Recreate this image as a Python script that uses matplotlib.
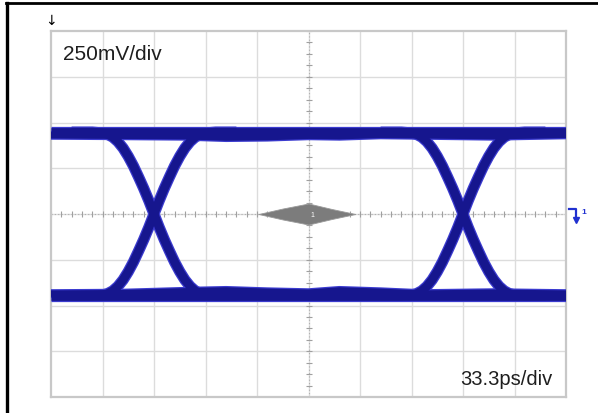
import numpy as np
import matplotlib
matplotlib.use("Agg")
import matplotlib.pyplot as plt
from matplotlib.lines import Line2D

plt.rcParams["font.family"] = ["Liberation Sans", "DejaVu Sans"]

# screen is 10 x 8 divisions, values in divisions
crossings = [-3.0, 3.0]
level_hi = 1.79
level_lo = -1.79

# rising edge read around a crossing (t in div from crossing, v in div)
edge_t = [-1.6, -1.2, -1.0, -0.9, -0.8, -0.7, -0.6, -0.5, -0.4, -0.3, -0.2, -0.1, 0.0,
          0.1, 0.2, 0.3, 0.4, 0.5, 0.6, 0.7, 0.8, 0.9, 1.0, 1.2, 1.6]
edge_v = [-1.79, -1.79, -1.77, -1.74, -1.68, -1.58, -1.44, -1.26, -1.05, -0.81, -0.56, -0.29, 0.0,
          0.29, 0.56, 0.81, 1.05, 1.26, 1.44, 1.58, 1.68, 1.74, 1.77, 1.79, 1.79]

# settling traces that sit a bit inside the level bands
settle_t = [-5.0, -3.6, -2.4, -1.6, -0.8, 0.0, 0.6, 1.4, 2.2, 3.6, 5.0]
settle_hi = [1.72, 1.71, 1.70, 1.67, 1.68, 1.71, 1.70, 1.73, 1.72, 1.70, 1.73]
settle_lo = [-1.74, -1.73, -1.69, -1.67, -1.70, -1.72, -1.67, -1.70, -1.74, -1.72, -1.74]

# gray histogram spindle at screen centre
spindle_t = [-0.97, -0.5, 0.0, 0.45, 0.91]
spindle_v = [0.0, 0.12, 0.23, 0.11, 0.0]

fig = plt.figure(figsize=(5.98, 4.14), dpi=100)
ax = fig.add_axes([51 / 598, 16 / 414, 515 / 598, 366 / 414])
ax.set_xlim(-5, 5)
ax.set_ylim(-4, 4)
ax.set_xticks([]); ax.set_yticks([])
for s in ax.spines.values():
    s.set_color("#c8c8c8"); s.set_linewidth(1.6)

for x in range(-4, 5):
    ax.axvline(x, color="#dcdcdc", lw=1, zorder=0)
for y in range(-3, 4):
    ax.axhline(y, color="#dcdcdc", lw=1, zorder=0)
ax.axhline(0, color="#b0b0b0", lw=0.8, ls=(0, (1, 2)), zorder=1)
ax.axvline(0, color="#b0b0b0", lw=0.8, ls=(0, (1, 2)), zorder=1)
xt = np.arange(-5, 5.01, 0.2)
yt = np.arange(-4, 4.01, 0.25)
ax.plot(xt, np.zeros_like(xt), ls="none", marker="|", ms=4, mew=0.8, color="#a0a0a0", zorder=1)
ax.plot(np.zeros_like(yt), yt, ls="none", marker="_", ms=4, mew=0.8, color="#a0a0a0", zorder=1)

sv = np.array(spindle_v)
ax.fill_between(spindle_t, -sv, sv, color="#7c7c7c", lw=0.6, edgecolor="#9a9a9a", zorder=2)
ax.text(0.08, -0.02, "1", color="white", fontsize=5, ha="center", va="center", zorder=2)

et = np.array(edge_t)
ev = np.array(edge_v)
traces = []
for c in crossings:
    traces.append((et + c, ev, 6.3))
    traces.append((et + c, -ev, 6.3))
traces.append(([-5, 5], [level_hi, level_hi], 6.3))
traces.append(([-5, 5], [level_lo, level_lo], 6.3))
traces.append((settle_t, settle_hi, 4.6))
traces.append((settle_t, settle_lo, 4.6))

# lighter fuzzy halo first, dark core on top
for t, v, lw in traces:
    ax.plot(t, v, color="#3b3bcf", lw=lw + 1.8, solid_capstyle="butt",
            solid_joinstyle="round", zorder=3)
for t, v, lw in traces:
    ax.plot(t, v, color="#16168e", lw=lw, solid_capstyle="butt",
            solid_joinstyle="round", zorder=4)

ax.text(0.023, 0.923, "250mV/div", transform=ax.transAxes, fontsize=15,
        color="#1e1e1e", ha="left", va="baseline", zorder=6)
ax.text(0.973, 0.036, "33.3ps/div", transform=ax.transAxes, fontsize=14.5,
        color="#1e1e1e", ha="right", va="baseline", zorder=6)
ax.text(0.0, 1.012, "\u2193", transform=ax.transAxes, fontsize=10, color="black",
        ha="center", va="bottom", family="DejaVu Sans")

# channel-1 marker on the right edge
ax.plot([5.05, 5.2, 5.2], [0.1, 0.1, -0.08], color="#2030d0", lw=1.6, clip_on=False)
ax.plot([5.2], [-0.14], marker="v", ms=5, color="#2030d0", clip_on=False)
ax.text(5.3, 0.05, "1", color="#2030d0", fontsize=6, fontweight="bold",
        ha="left", va="center", clip_on=False)

# outer frame (left and top edges only visible)
fig.add_artist(Line2D([6.5 / 598, 6.5 / 598], [0, 1 - 4 / 414], color="black", lw=2.4))
fig.add_artist(Line2D([5.6 / 598, 1], [1 - 4 / 414, 1 - 4 / 414], color="black", lw=2.0))

fig.savefig("out.png", dpi=100, facecolor="white")
